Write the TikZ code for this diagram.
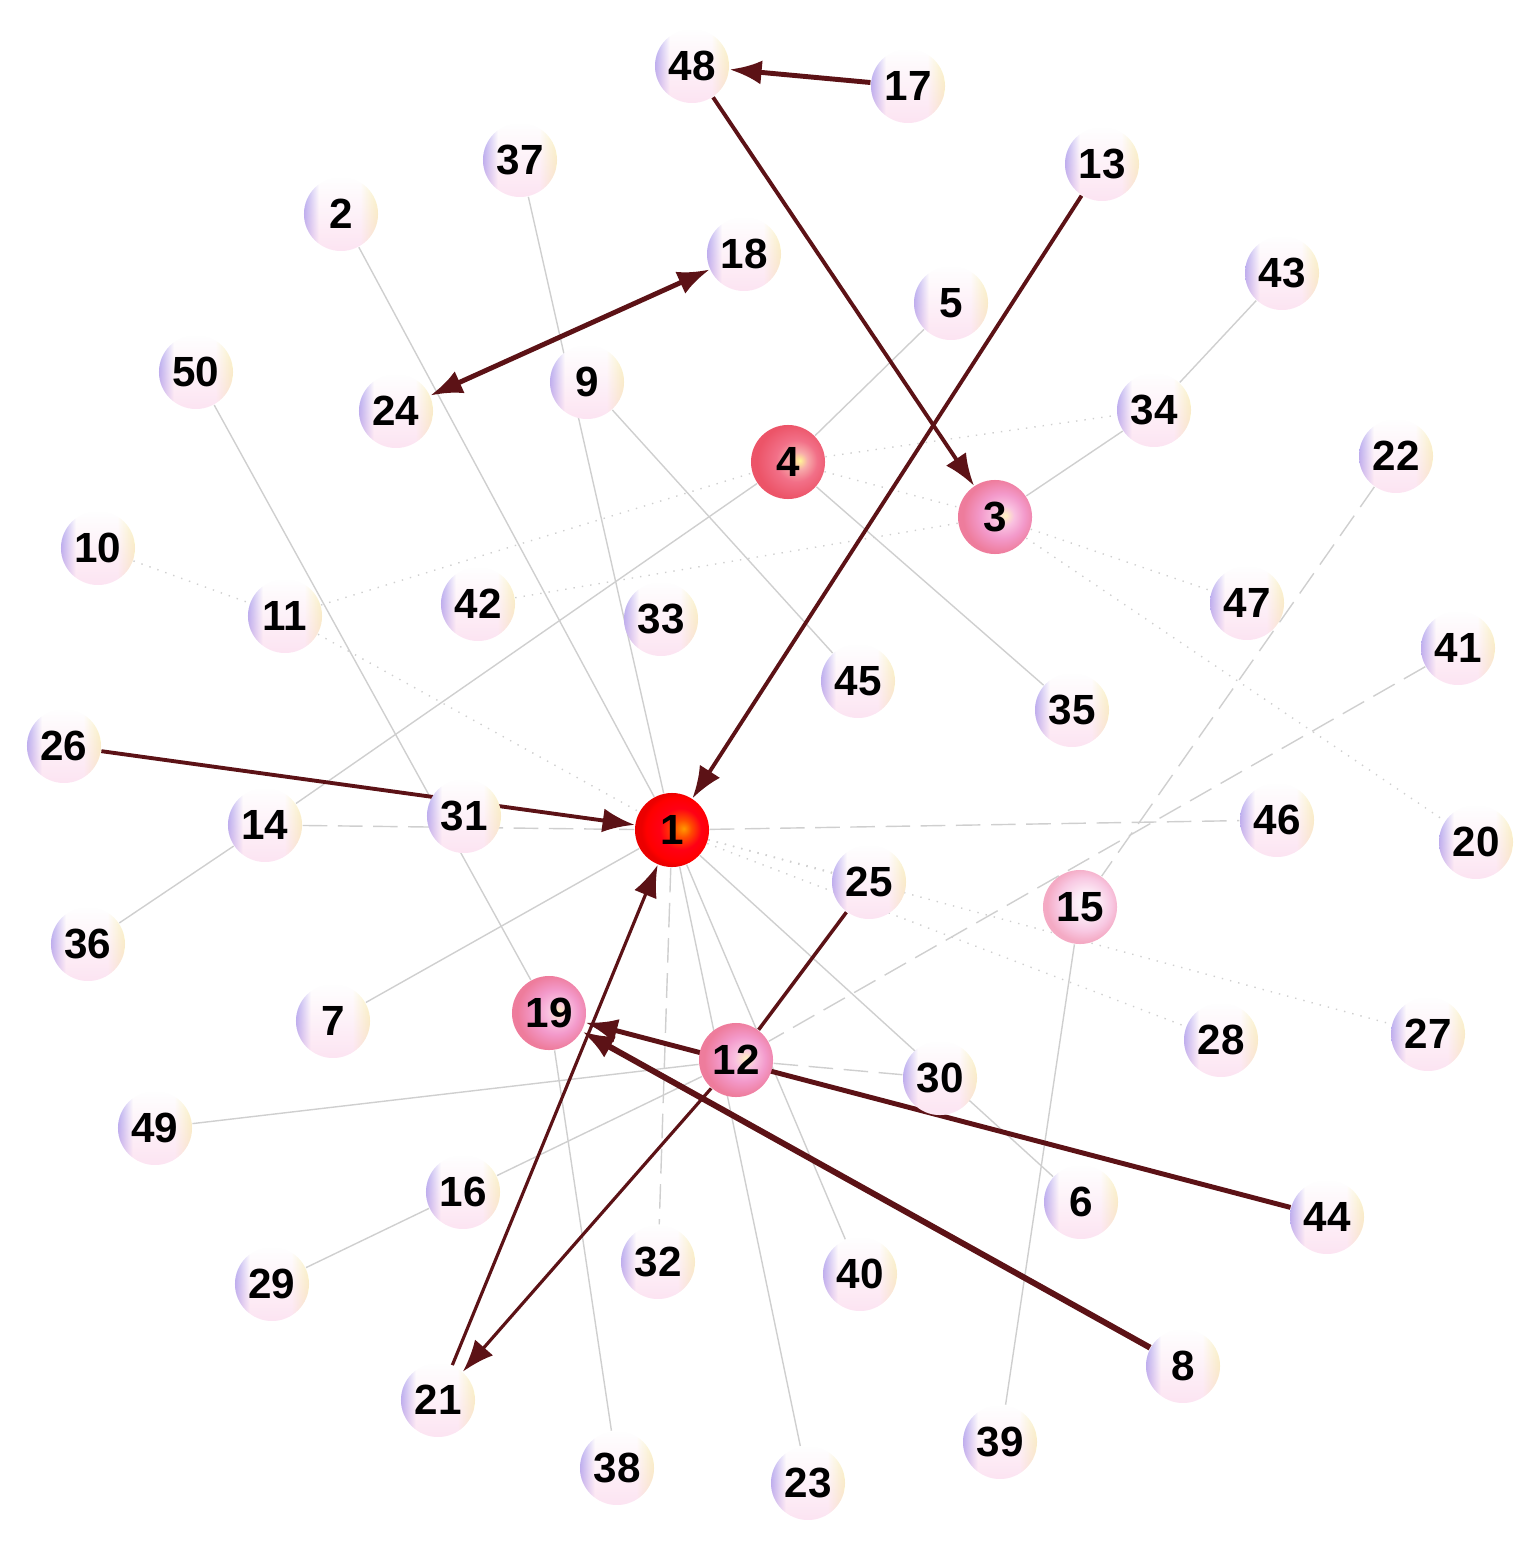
\documentclass[tikz,border=0pt]{standalone}
\usepackage{fontspec}
\setmainfont{Liberation Sans}
\usetikzlibrary{arrows.meta, fadings}
\usepackage{xcolor}

\definecolor{edgered}{HTML}{5C1216}
\definecolor{faintgray}{HTML}{CFCFCF}
\definecolor{lav}{HTML}{B4AEF2}
\definecolor{cream}{HTML}{FAF7C4}
\definecolor{blush}{HTML}{F8B2DA}

\pgfdeclarelayer{edges}
\pgfsetlayers{edges,main}

\pgfdeclarehorizontalshading{pearlh}{100bp}{color(0bp)=(lav); color(25bp)=(lav); color(35bp)=(white); color(63bp)=(white); color(75bp)=(cream); color(100bp)=(cream)}
\pgfdeclareradialshading{hubball}{\pgfpoint{8bp}{1bp}}{color(0bp)=(orange!80!yellow); color(6bp)=(orange!60!red); color(14bp)=(red!92!magenta); color(22bp)=(red); color(25bp)=(red!92!black); color(50bp)=(red!92!black)}
\pgfdeclareradialshading{redball}{\pgfpoint{8bp}{1bp}}{color(0bp)=(rgb,255:red,255;green,245;blue,150); color(6bp)=(rgb,255:red,247;green,170;blue,170); color(14bp)=(rgb,255:red,242;green,112;blue,136); color(25bp)=(rgb,255:red,236;green,84;blue,104); color(50bp)=(rgb,255:red,236;green,84;blue,104)}
\pgfdeclareradialshading{roseball}{\pgfpoint{7bp}{1bp}}{color(0bp)=(rgb,255:red,255;green,242;blue,192); color(7bp)=(rgb,255:red,249;green,192;blue,224); color(15bp)=(rgb,255:red,243;green,154;blue,203); color(25bp)=(rgb,255:red,238;green,124;blue,156); color(50bp)=(rgb,255:red,238;green,124;blue,156)}
\pgfdeclareradialshading{blushball}{\pgfpoint{5bp}{3bp}}{color(0bp)=(white); color(9bp)=(rgb,255:red,252;green,232;blue,244); color(18bp)=(rgb,255:red,248;green,200;blue,226); color(25bp)=(rgb,255:red,244;green,170;blue,196); color(50bp)=(rgb,255:red,244;green,170;blue,196)}
\tikzfading[name=pinkfade, top color=transparent!100, middle color=transparent!100, bottom color=transparent!65]

\begin{document}
\begin{tikzpicture}[
    x=0.01cm, y=-0.01cm,
    ball/.style={circle, minimum size=7.4mm, inner sep=0pt, font=\bfseries\fontsize{12}{12}\selectfont},
    pearl/.style={ball, shading=pearlh,
        path picture={\fill[blush, path fading=pinkfade] (path picture bounding box.south west) rectangle (path picture bounding box.north east);}},
    hub/.style={ball, shading=hubball},
    redhub/.style={ball, shading=redball},
    rose/.style={ball, shading=roseball},
    blushed/.style={ball, shading=blushball},
    arrow/.style={-{Latex[length=3.2mm, width=2.4mm]}, line width=1.1pt, edgered},
    link/.style={line width=1pt, edgered},
    faint/.style={line width=0.4pt, faintgray},
    dotline/.style={faint, dotted},
    dashline/.style={faint, dash pattern=on 7pt off 3pt}
]
    \useasboundingbox (0,0) rectangle (1532,1555);

    % nodes
    \node[hub] (n1) at (672,830) {1};
    \node[pearl] (n2) at (341,214) {2};
    \node[rose] (n3) at (995,517) {3};
    \node[redhub] (n4) at (788,462) {4};
    \node[pearl] (n5) at (951,303) {5};
    \node[pearl] (n6) at (1081,1202) {6};
    \node[pearl] (n7) at (333,1021) {7};
    \node[pearl] (n8) at (1183,1366) {8};
    \node[pearl] (n9) at (587,382) {9};
    \node[pearl] (n10) at (98,548) {10};
    \node[pearl] (n11) at (285,616) {11};
    \node[rose] (n12) at (736,1060) {12};
    \node[pearl] (n13) at (1102,164) {13};
    \node[pearl] (n14) at (265,825) {14};
    \node[blushed] (n15) at (1080,907) {15};
    \node[pearl] (n16) at (463,1192) {16};
    \node[pearl] (n17) at (908,86) {17};
    \node[pearl] (n18) at (744,254) {18};
    \node[rose] (n19) at (549,1013) {19};
    \node[pearl] (n20) at (1476,842) {20};
    \node[pearl] (n21) at (438,1400) {21};
    \node[pearl] (n22) at (1396,456) {22};
    \node[pearl] (n23) at (808,1483) {23};
    \node[pearl] (n24) at (396,411) {24};
    \node[pearl] (n25) at (869,882) {25};
    \node[pearl] (n26) at (64,746) {26};
    \node[pearl] (n27) at (1428,1034) {27};
    \node[pearl] (n28) at (1221,1040) {28};
    \node[pearl] (n29) at (272,1284) {29};
    \node[pearl] (n30) at (940,1078) {30};
    \node[pearl] (n31) at (464,816) {31};
    \node[pearl] (n32) at (658,1262) {32};
    \node[pearl] (n33) at (661,619) {33};
    \node[pearl] (n34) at (1154,410) {34};
    \node[pearl] (n35) at (1072,710) {35};
    \node[pearl] (n36) at (88,944) {36};
    \node[pearl] (n37) at (520,160) {37};
    \node[pearl] (n38) at (617,1468) {38};
    \node[pearl] (n39) at (1000,1442) {39};
    \node[pearl] (n40) at (860,1274) {40};
    \node[pearl] (n41) at (1458,648) {41};
    \node[pearl] (n42) at (478,604) {42};
    \node[pearl] (n43) at (1282,273) {43};
    \node[pearl] (n44) at (1327,1217) {44};
    \node[pearl] (n45) at (858,681) {45};
    \node[pearl] (n46) at (1277,820) {46};
    \node[pearl] (n47) at (1247,603) {47};
    \node[pearl] (n48) at (692,66) {48};
    \node[pearl] (n49) at (155,1128) {49};
    \node[pearl] (n50) at (196,372) {50};

    \begin{pgfonlayer}{edges}
    % light links
    \draw[faint] (n2) -- (n1);
    \draw[faint] (n37) -- (n1);
    \draw[faint] (n50) -- (n19);
    \draw[faint] (n5) -- (n4);
    \draw[faint] (n43) -- (n34);
    \draw[faint] (n34) -- (n3);
    \draw[faint] (n36) -- (n14);
    \draw[faint] (n14) -- (n4);
    \draw[faint] (n7) -- (n1);
    \draw[faint] (n9) -- (n45);
    \draw[faint] (n4) -- (n35);
    \draw[faint] (n29) -- (n16);
    \draw[faint] (n16) -- (n12);
    \draw[faint] (n49) -- (n12);
    \draw[faint] (n1) -- (n6);
    \draw[faint] (n1) -- (n40);
    \draw[faint] (n1) -- (n23);
    \draw[faint] (n38) -- (n19);
    \draw[faint] (n15) -- (n39);
    \draw[dotline] (n10) -- (n11);
    \draw[dotline] (n11) -- (n1);
    \draw[dotline] (n11) -- (n4);
    \draw[dotline] (n4) -- (n34);
    \draw[dotline] (n4) -- (n3);
    \draw[dotline] (n42) -- (n3);
    \draw[dotline] (n3) -- (n47);
    \draw[dotline] (n3) -- (n20);
    \draw[dotline] (n1) -- (n25);
    \draw[dotline] (n1) -- (n28);
    \draw[dotline] (n1) -- (n27);
    \draw[dashline] (n14) -- (n1);
    \draw[dashline] (n1) -- (n46);
    \draw[dashline] (n1) -- (n32);
    \draw[dashline] (n12) -- (n30);
    \draw[dashline] (n41) -- (n12);
    \draw[dashline] (n22) -- (n15);

    % directed links
    \draw[arrow, line width=1.4pt] (n17) -- (n48);
    \draw[arrow] (n48) -- (n3);
    \draw[arrow] (n13) -- (n1);
    \draw[arrow, {Latex[length=3.2mm, width=2.4mm]}-{Latex[length=3.2mm, width=2.4mm]}, line width=1.4pt] (n24) -- (n18);
    \draw[arrow] (n26) -- (n1);
    \draw[arrow, line width=0.9pt] (n21) -- (n1);
    \draw[arrow, line width=0.9pt] (n12) -- (n21);
    \draw[link] (n25) -- (n12);
    \draw[arrow, line width=1.4pt] (n44) -- (n19);
    \draw[arrow, line width=1.7pt] (n8) -- (n19);
    \end{pgfonlayer}

\end{tikzpicture}
\end{document}
